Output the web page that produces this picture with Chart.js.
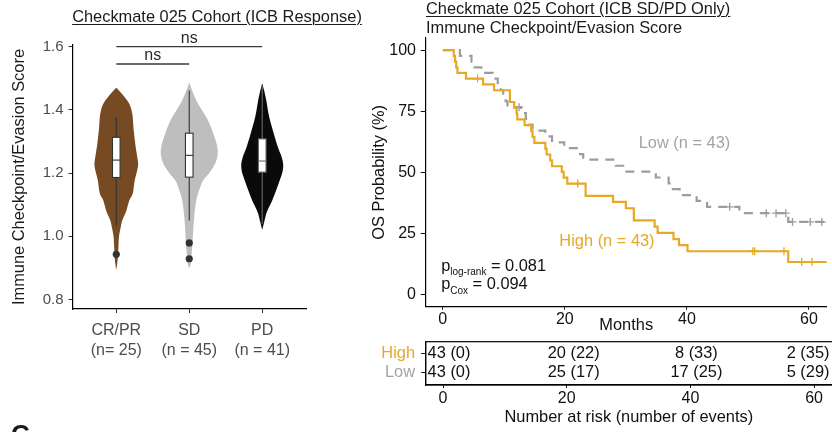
<!DOCTYPE html>
<html>
<head>
<meta charset="utf-8">
<script src="https://cdn.jsdelivr.net/npm/chart.js@4.4.1/dist/chart.umd.min.js"></script>
<style>
  html, body { margin: 0; padding: 0; background: #fff; }
  #wrap { position: relative; width: 832px; height: 432px; overflow: hidden;
          font-family: "Liberation Sans", Arial, Helvetica, sans-serif; }
  #wrap canvas { position: absolute; left: 0; top: 0; }
  .txt { position: absolute; white-space: nowrap; color: #1a1a1a; font-size: 16.4px; line-height: 18px; }
  .ul { text-decoration: underline; text-decoration-thickness: 1px; text-underline-offset: 2px; }
</style>
</head>
<body>
<div id="wrap">
  <canvas id="violin" width="832" height="432"></canvas>
  <canvas id="km" width="832" height="432"></canvas>
  <canvas id="risk" width="832" height="432"></canvas>
  <div class="txt ul" style="left:0;width:434px;text-align:center;top:7px;">Checkmate 025 Cohort (ICB Response)</div>
  <div class="txt ul" style="left:426px;top:-1px;">Checkmate 025 Cohort (ICB SD/PD Only)</div>
  <div class="txt" style="left:426px;top:18px;">Immune Checkpoint/Evasion Score</div>
  <div class="txt" style="left:11px;top:419px;font-size:26px;line-height:30px;font-weight:bold;">C</div>
</div>
<script>
// ---------- response groups (violin + box) ----------
const responseGroups = ['CR/PR', 'SD', 'PD'];
const groupCounts = ['(n= 25)', '(n = 45)', '(n = 41)'];
const scoreTicks = [0.8, 1.0, 1.2, 1.4, 1.6];

// density outlines: score level and half-width (in category widths)
const densityScoreCRPR = [0.893, 0.93, 0.97, 1.00, 1.03, 1.05, 1.08, 1.113, 1.135, 1.177, 1.21, 1.23, 1.26, 1.293, 1.34, 1.388, 1.419, 1.44, 1.455, 1.47];
const densityWidthCRPR = [0, 0.021, 0.030, 0.038, 0.062, 0.082, 0.137, 0.178, 0.226, 0.253, 0.288, 0.299, 0.281, 0.260, 0.237, 0.219, 0.178, 0.116, 0.062, 0];
const densityScoreSD = [0.90, 0.914, 0.966, 1.05, 1.113, 1.155, 1.177, 1.20, 1.23, 1.26, 1.29, 1.325, 1.35, 1.377, 1.40, 1.43, 1.46, 1.487];
const densityWidthSD = [0, 0.021, 0.041, 0.064, 0.096, 0.151, 0.192, 0.274, 0.356, 0.390, 0.377, 0.329, 0.288, 0.233, 0.171, 0.096, 0.041, 0];
const densityScorePD = [1.02, 1.045, 1.071, 1.09, 1.113, 1.15, 1.177, 1.20, 1.225, 1.25, 1.282, 1.324, 1.377, 1.43, 1.46, 1.484];
const densityWidthPD = [0, 0.027, 0.055, 0.089, 0.137, 0.199, 0.240, 0.274, 0.288, 0.267, 0.214, 0.159, 0.096, 0.055, 0.027, 0];

const boxQ1 = [1.186, 1.187, 1.203];
const boxMedian = [1.241, 1.256, 1.238];
const boxQ3 = [1.313, 1.326, 1.308];
const whiskerLow = [1.034, 1.050, 1.040];
const whiskerHigh = [1.377, 1.461, 1.477];
const outlierGroup = [1, 2, 2];
const outlierScore = [0.943, 0.979, 0.929];

const comparisonFrom = [1, 1];
const comparisonTo = [2, 3];
const comparisonScore = [1.545, 1.6];
const comparisonLabel = ['ns', 'ns'];

// ---------- overall survival (SD/PD only) ----------
const timeTicks = [0, 20, 40, 60];
const probTicks = [0, 25, 50, 75, 100];
const highTime = [0, 1.8, 2.0, 2.2, 2.4, 3.8, 6.6, 8.4, 11.0, 11.7, 12.1, 12.2, 13.4, 14.5, 14.7, 15.0, 16.8, 17.0, 17.6, 17.9, 19.5, 19.8, 20.4, 23.4, 27.9, 30.0, 31.3, 34.7, 35.2, 37.8, 38.7, 40.1, 56.6, 63.0];
const highSurv = [100, 97.7, 95.3, 93.0, 90.7, 88.4, 86.0, 83.6, 78.8, 76.4, 74.0, 71.7, 69.3, 66.9, 64.5, 62.1, 59.7, 57.3, 54.9, 52.5, 50.2, 47.8, 45.4, 40.4, 37.9, 35.3, 30.3, 27.8, 25.2, 22.7, 20.2, 17.7, 13.3, 13.3];
const highCensorTime = [5.7, 22.1, 50.8, 51.1, 55.9, 58.8, 60.5];
const lowTime = [0, 2.8, 4.7, 5.2, 6.3, 8.2, 9.0, 9.5, 9.9, 10.3, 10.6, 12.8, 13.6, 13.9, 14.7, 16.8, 17.9, 19.9, 22.2, 23.0, 28.3, 29.8, 34.9, 37.0, 37.4, 38.8, 41.6, 43.3, 48.6, 56.6, 63.0];
const lowSurv = [100, 97.7, 95.3, 93.0, 90.7, 88.4, 86.0, 83.7, 81.4, 79.1, 76.7, 74.3, 71.9, 69.5, 67.1, 64.7, 62.3, 59.9, 57.5, 55.2, 52.7, 50.3, 47.9, 45.5, 43.1, 40.7, 38.3, 35.9, 33.3, 29.7, 29.7];
const lowCensorTime = [12.5, 47.0, 53.0, 54.6, 56.2, 57.3, 60.2, 62.1];
const pLogRank = '0.081';
const pCox = '0.094';

// ---------- number at risk ----------
const riskGroups = ['High', 'Low'];
const riskTimes = [0, 20, 40, 60];
const highAtRisk = [43, 20, 8, 2];
const highEvents = [0, 22, 33, 35];
const lowAtRisk = [43, 25, 17, 5];
const lowEvents = [0, 17, 25, 29];

// ---------- styling ----------
const FONT = '"Liberation Sans", Arial, Helvetica, sans-serif';
const ORANGE = '#E7A823';
const LOW_GRAY = '#9C9C9C';
const LOW_TEXT = '#A4A4A4';
const violinFill = ['#764B23', '#BEBEBE', '#0A0A0A'];
const boxLine = ['#333333', '#333333', '#6A6A6A'];

Chart.defaults.font.family = FONT;
Chart.defaults.animation = false;
Chart.defaults.plugins.legend.display = false;
Chart.defaults.plugins.tooltip.enabled = false;

const pts = (xs, ys) => xs.map((v, i) => ({ x: v, y: ys[i] }));
function survAt(times, surv, t) {
  let s = surv[0];
  for (let i = 0; i < times.length; i++) { if (times[i] <= t) s = surv[i]; }
  return s;
}

// open Catmull-Rom curve through pixel points
function splineThrough(ctx, p, start) {
  if (start) ctx.moveTo(p[0][0], p[0][1]); else ctx.lineTo(p[0][0], p[0][1]);
  const n = p.length;
  for (let i = 0; i < n - 1; i++) {
    const p0 = p[Math.max(i - 1, 0)], p1 = p[i], p2 = p[i + 1], p3 = p[Math.min(i + 2, n - 1)];
    ctx.bezierCurveTo(p1[0] + (p2[0] - p0[0]) / 6, p1[1] + (p2[1] - p0[1]) / 6,
                      p2[0] - (p3[0] - p1[0]) / 6, p2[1] - (p3[1] - p1[1]) / 6, p2[0], p2[1]);
  }
}

const densityScores = [densityScoreCRPR, densityScoreSD, densityScorePD];
const densityWidths = [densityWidthCRPR, densityWidthSD, densityWidthPD];
const BOX_HALF = 0.052;

const violinPlugin = {
  id: 'violinBox',
  beforeDatasetsDraw(chart) {
    const { ctx, scales: { x, y } } = chart;
    ctx.save();
    responseGroups.forEach((g, gi) => {
      const c = gi + 1;
      const sc = densityScores[gi], w = densityWidths[gi];
      const right = sc.map((s, i) => [x.getPixelForValue(c + w[i]), y.getPixelForValue(s)]);
      const left = sc.map((s, i) => [x.getPixelForValue(c - w[i]), y.getPixelForValue(s)]).reverse();
      ctx.beginPath();
      splineThrough(ctx, right, true);
      splineThrough(ctx, left, false);
      ctx.closePath();
      ctx.fillStyle = violinFill[gi];
      ctx.fill();

      // box and whiskers
      const xc = x.getPixelForValue(c);
      const xl = x.getPixelForValue(c - BOX_HALF), xr = x.getPixelForValue(c + BOX_HALF);
      ctx.strokeStyle = boxLine[gi];
      ctx.lineWidth = 1.1;
      ctx.beginPath();
      ctx.moveTo(xc, y.getPixelForValue(whiskerLow[gi])); ctx.lineTo(xc, y.getPixelForValue(boxQ1[gi]));
      ctx.moveTo(xc, y.getPixelForValue(boxQ3[gi])); ctx.lineTo(xc, y.getPixelForValue(whiskerHigh[gi]));
      ctx.stroke();
      const yt = y.getPixelForValue(boxQ3[gi]), yb = y.getPixelForValue(boxQ1[gi]);
      ctx.fillStyle = '#ffffff';
      ctx.fillRect(xl, yt, xr - xl, yb - yt);
      ctx.strokeRect(xl, yt, xr - xl, yb - yt);
      ctx.beginPath();
      const ym = y.getPixelForValue(boxMedian[gi]);
      ctx.moveTo(xl, ym); ctx.lineTo(xr, ym);
      ctx.stroke();
    });
    ctx.restore();
  },
  afterDraw(chart) {
    const { ctx, scales: { x, y } } = chart;
    ctx.save();
    ctx.strokeStyle = '#3a3a3a';
    ctx.lineWidth = 1.4;
    ctx.fillStyle = '#2a2a2a';
    ctx.font = '16px ' + FONT;
    ctx.textAlign = 'center';
    ctx.textBaseline = 'alphabetic';
    comparisonLabel.forEach((lab, i) => {
      const x1 = x.getPixelForValue(comparisonFrom[i]), x2 = x.getPixelForValue(comparisonTo[i]);
      const yy = y.getPixelForValue(comparisonScore[i]);
      ctx.beginPath(); ctx.moveTo(x1, yy); ctx.lineTo(x2, yy); ctx.stroke();
      ctx.fillText(lab, (x1 + x2) / 2, yy - 3.5);
    });
    ctx.restore();
  }
};

new Chart(document.getElementById('violin'), {
  type: 'scatter',
  data: {
    datasets: [{
      data: pts(outlierGroup, outlierScore),
      pointRadius: 3.6, backgroundColor: '#333333', borderWidth: 0
    }]
  },
  options: {
    responsive: false, devicePixelRatio: 1,
    layout: { padding: { left: 9.5, top: 45, right: 526, bottom: 0 } },
    scales: {
      x: {
        type: 'linear', min: 0.4, max: 3.6,
        afterBuildTicks: s => { s.ticks = responseGroups.map((g, i) => ({ value: i + 1 })); },
        afterFit: s => { s.height = 123; },
        ticks: {
          callback: v => [responseGroups[v - 1], groupCounts[v - 1]],
          color: '#4D4D4D', font: { size: 16, lineHeight: 1.25 }, padding: 8,
          maxRotation: 0, autoSkip: false
        },
        grid: { drawOnChartArea: false, drawTicks: true, tickLength: 4, color: '#333333' },
        border: { color: '#000000', width: 1.2 }
      },
      y: {
        min: 0.77, max: 1.605,
        afterBuildTicks: s => { s.ticks = scoreTicks.map(v => ({ value: v })); },
        afterFit: s => { s.width = 63; },
        ticks: { callback: v => v.toFixed(1), color: '#4D4D4D', font: { size: 15 }, padding: 5 },
        grid: { drawOnChartArea: false, drawTicks: true, tickLength: 4, color: '#333333' },
        border: { color: '#000000', width: 1.2 },
        title: { display: true, text: 'Immune Checkpoint/Evasion Score', color: '#1a1a1a',
                 font: { size: 16.4 }, padding: { top: 0, bottom: 0 } }
      }
    }
  },
  plugins: [violinPlugin]
});

// ---------- survival curves ----------
const kmText = {
  id: 'kmText',
  afterDatasetsDraw(chart) {
    const { ctx, scales: { x, y } } = chart;
    ctx.save();
    ctx.textAlign = 'left';
    ctx.textBaseline = 'alphabetic';
    ctx.font = '16.4px ' + FONT;
    ctx.fillStyle = LOW_TEXT;
    ctx.fillText('Low (n = 43)', x.getPixelForValue(32.1), y.getPixelForValue(59.8));
    ctx.fillStyle = ORANGE;
    ctx.fillText('High (n = 43)', x.getPixelForValue(19.1), y.getPixelForValue(19.8));

    const big = '16.4px ' + FONT, small = '10px ' + FONT;
    const rows = [['log-rank', pLogRank, 9.7], ['Cox', pCox, 2.2]];
    ctx.fillStyle = '#111111';
    rows.forEach(([sub, val, sy]) => {
      let xx = x.getPixelForValue(-0.27);
      const yb = y.getPixelForValue(sy);
      ctx.font = big; ctx.fillText('p', xx, yb); xx += ctx.measureText('p').width;
      ctx.font = small; ctx.fillText(sub, xx, yb + 4.5); xx += ctx.measureText(sub).width;
      ctx.font = big; ctx.fillText(' = ' + val, xx, yb);
    });
    ctx.restore();
  }
};

new Chart(document.getElementById('km'), {
  type: 'scatter',
  data: {
    datasets: [
      { data: pts(highTime, highSurv), showLine: true, stepped: true, borderColor: ORANGE,
        borderWidth: 2.2, pointRadius: 0, fill: false },
      { data: pts(lowTime, lowSurv), showLine: true, stepped: true, borderColor: LOW_GRAY,
        borderWidth: 2.2, borderDash: [9, 7], pointRadius: 0, fill: false },
      { data: highCensorTime.map(t => ({ x: t, y: survAt(highTime, highSurv, t) })),
        pointStyle: 'cross', pointRadius: 4, borderColor: ORANGE, borderWidth: 1.3 },
      { data: lowCensorTime.map(t => ({ x: t, y: survAt(lowTime, lowSurv, t) })),
        pointStyle: 'cross', pointRadius: 4, borderColor: LOW_GRAY, borderWidth: 1.3 }
    ]
  },
  options: {
    responsive: false, devicePixelRatio: 1,
    layout: { padding: { left: 369.7, top: 38, right: 0, bottom: 96.4 } },
    scales: {
      x: {
        type: 'linear', min: -2.8, max: 62.9,
        afterBuildTicks: s => { s.ticks = timeTicks.map(v => ({ value: v })); },
        afterFit: s => { s.height = 28.9; },
        ticks: { color: '#111111', font: { size: 16 }, padding: 0, maxRotation: 0 },
        grid: { drawOnChartArea: false, drawTicks: true, tickLength: 3, color: '#111111' },
        border: { color: '#000000', width: 1.2 },
        title: { display: true, text: 'Months', color: '#111111', font: { size: 16.4 }, padding: 0 }
      },
      y: {
        min: -5, max: 105,
        afterBuildTicks: s => { s.ticks = probTicks.map(v => ({ value: v })); },
        afterFit: s => { s.width = 56; },
        ticks: { color: '#111111', font: { size: 16 }, padding: 4.7 },
        grid: { drawOnChartArea: false, drawTicks: true, tickLength: 5, color: '#111111' },
        border: { color: '#000000', width: 1.2 },
        title: { display: true, text: 'OS Probability (%)', color: '#111111', font: { size: 16.4 },
                 padding: { top: 0, bottom: 0 } }
      }
    }
  },
  plugins: [kmText]
});

// ---------- risk table ----------
const riskNudge = [6, 7, 6, -6];
const riskTable = {
  id: 'riskTable',
  afterDraw(chart) {
    const { ctx, chartArea: a, scales: { x, y } } = chart;
    ctx.save();
    ctx.strokeStyle = '#000000';
    ctx.lineWidth = 1.2;
    ctx.strokeRect(a.left, a.top, a.right - a.left + 2, a.bottom - a.top);
    ctx.font = '16.4px ' + FONT;
    ctx.fillStyle = '#111111';
    ctx.textAlign = 'center';
    ctx.textBaseline = 'middle';
    riskTimes.forEach((t, i) => {
      const px = x.getPixelForValue(t) + riskNudge[i];
      ctx.fillText(highAtRisk[i] + ' (' + highEvents[i] + ')', px, y.getPixelForValue(0));
      ctx.fillText(lowAtRisk[i] + ' (' + lowEvents[i] + ')', px, y.getPixelForValue(1));
    });
    ctx.restore();
  }
};

new Chart(document.getElementById('risk'), {
  type: 'scatter',
  data: { datasets: [] },
  options: {
    responsive: false, devicePixelRatio: 1,
    layout: { padding: { left: 300, top: 341.7, right: 0, bottom: 5.1 } },
    scales: {
      x: {
        type: 'linear', min: -2.8, max: 62.9,
        afterBuildTicks: s => { s.ticks = riskTimes.map(v => ({ value: v })); },
        afterFit: s => { s.height = 41.9; },
        ticks: { color: '#111111', font: { size: 16 }, padding: 0.7, maxRotation: 0 },
        grid: { drawOnChartArea: false, drawTicks: true, tickLength: 3, color: '#111111' },
        border: { color: '#000000', width: 1.2 },
        title: { display: true, text: 'Number at risk (number of events)', color: '#111111',
                 font: { size: 16.4 }, padding: 0 }
      },
      y: {
        min: -0.6, max: 1.65, reverse: true,
        afterBuildTicks: s => { s.ticks = riskGroups.map((g, i) => ({ value: i })); },
        afterFit: s => { s.width = 125.7; },
        ticks: { callback: v => riskGroups[v], color: c => (c.index === 0 ? ORANGE : LOW_TEXT),
                 font: { size: 16.4 }, padding: 6.2 },
        grid: { drawOnChartArea: false, drawTicks: true, tickLength: 4.5, color: '#111111' },
        border: { color: '#000000', width: 1.2 }
      }
    }
  },
  plugins: [riskTable]
});
</script>
</body>
</html>
